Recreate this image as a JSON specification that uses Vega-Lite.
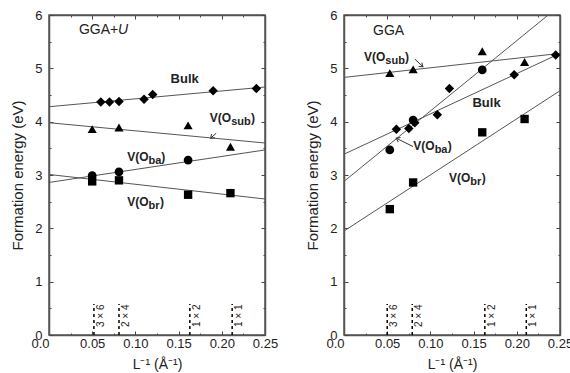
{
  "$schema": "https://vega.github.io/schema/vega-lite/v6.json",
  "padding": {"left": 10, "top": 8, "right": 0, "bottom": 0},
  "spacing": 79,
  "bounds": "flush",
  "config": {
    "font": "Liberation Sans",
    "view": {"stroke": "#555", "strokeWidth": 1.5},
    "axis": {"domainColor": "#555", "domainWidth": 1.5, "tickColor": "#444", "tickWidth": 1, "labelColor": "#222", "titleColor": "#222", "labelFontSize": 13, "grid": false, "titleFontWeight": "normal", "labelFont": "Liberation Sans", "titleFont": "Liberation Sans"}
  },
  "datasets": {
    "fitL": [
      {"s": "Bulk", "x": 0, "y": 4.28}, {"s": "Bulk", "x": 0.25, "y": 4.65},
      {"s": "Osub", "x": 0, "y": 3.98}, {"s": "Osub", "x": 0.25, "y": 3.60},
      {"s": "Oba", "x": 0, "y": 2.86}, {"s": "Oba", "x": 0.25, "y": 3.47},
      {"s": "Obr", "x": 0, "y": 3.01}, {"s": "Obr", "x": 0.25, "y": 2.55}
    ],
    "fitR": [
      {"s": "Osub", "x": 0, "y": 4.83}, {"s": "Osub", "x": 0.25, "y": 5.28},
      {"s": "Bulk", "x": 0, "y": 3.39}, {"s": "Bulk", "x": 0.25, "y": 5.28},
      {"s": "Oba", "x": 0, "y": 2.88}, {"s": "Oba", "x": 0.25, "y": 6.18},
      {"s": "Obr", "x": 0, "y": 1.95}, {"s": "Obr", "x": 0.25, "y": 4.58}
    ],
    "ptsL": [
      {"s": "Bulk", "x": 0.060, "y": 4.37}, {"s": "Bulk", "x": 0.070, "y": 4.37}, {"s": "Bulk", "x": 0.081, "y": 4.38}, {"s": "Bulk", "x": 0.110, "y": 4.42}, {"s": "Bulk", "x": 0.120, "y": 4.51}, {"s": "Bulk", "x": 0.190, "y": 4.58}, {"s": "Bulk", "x": 0.240, "y": 4.62},
      {"s": "Osub", "x": 0.050, "y": 3.86}, {"s": "Osub", "x": 0.081, "y": 3.89}, {"s": "Osub", "x": 0.161, "y": 3.93}, {"s": "Osub", "x": 0.210, "y": 3.53},
      {"s": "Oba", "x": 0.050, "y": 2.99}, {"s": "Oba", "x": 0.081, "y": 3.06}, {"s": "Oba", "x": 0.161, "y": 3.28},
      {"s": "Obr", "x": 0.050, "y": 2.88}, {"s": "Obr", "x": 0.081, "y": 2.90}, {"s": "Obr", "x": 0.161, "y": 2.63}, {"s": "Obr", "x": 0.210, "y": 2.66}
    ],
    "ptsR": [
      {"s": "Osub", "x": 0.053, "y": 4.91}, {"s": "Osub", "x": 0.080, "y": 4.98}, {"s": "Osub", "x": 0.160, "y": 5.32}, {"s": "Osub", "x": 0.209, "y": 5.12},
      {"s": "Bulk", "x": 0.0606, "y": 3.86}, {"s": "Bulk", "x": 0.075, "y": 3.87}, {"s": "Bulk", "x": 0.082, "y": 3.98}, {"s": "Bulk", "x": 0.108, "y": 4.13}, {"s": "Bulk", "x": 0.122, "y": 4.62}, {"s": "Bulk", "x": 0.197, "y": 4.88}, {"s": "Bulk", "x": 0.245, "y": 5.25},
      {"s": "Oba", "x": 0.053, "y": 3.47}, {"s": "Oba", "x": 0.080, "y": 4.03}, {"s": "Oba", "x": 0.160, "y": 4.97},
      {"s": "Obr", "x": 0.053, "y": 2.36}, {"s": "Obr", "x": 0.080, "y": 2.86}, {"s": "Obr", "x": 0.160, "y": 3.80}, {"s": "Obr", "x": 0.209, "y": 4.05}
    ],
    "supL": [{"x": 0.052, "t": "3 × 6"}, {"x": 0.081, "t": "2 × 4"}, {"x": 0.163, "t": "1 × 2"}, {"x": 0.212, "t": "1 × 1"}],
    "supR": [{"x": 0.050, "t": "3 × 6"}, {"x": 0.079, "t": "2 × 4"}, {"x": 0.163, "t": "1 × 2"}, {"x": 0.211, "t": "1 × 1"}],
    "lblL": [{"t": "sub", "x": 0.2108, "xc": 0.2339, "y": 3.99}, {"t": "ba", "x": 0.1153, "xc": 0.1300, "y": 3.26}, {"t": "br", "x": 0.1153, "xc": 0.1285, "y": 2.41}],
    "lblR": [{"t": "sub", "x": 0.0478, "xc": 0.0705, "y": 5.13}, {"t": "ba", "x": 0.1049, "xc": 0.1200, "y": 3.47}, {"t": "br", "x": 0.1462, "xc": 0.1595, "y": 2.86}],
    "bulkL": [{"t": "Bulk", "x": 0.157, "y": 4.72}],
    "bulkR": [{"t": "Bulk", "x": 0.165, "y": 4.28}],
    "ttlL": [{"t": "GGA+", "u": "U", "x": 0.0346, "y": 5.65}],
    "ttlR": [{"t": "GGA", "x": 0.0336, "y": 5.63}],
    "arrL": [{"id": "sub", "x": 0.1935, "y": 3.784, "x2": 0.1871, "y2": 3.69}],
    "arrR": [{"id": "sub", "x": 0.0822, "y": 5.17, "x2": 0.0914, "y2": 5.03}, {"id": "ba", "x": 0.0799, "y": 3.533, "x2": 0.0605, "y2": 3.69}]
  },
  "hconcat": [
    {
      "width": 216, "height": 320,
      "resolve": {"axis": {"x": "independent", "y": "independent"}},
      "layer": [
        {"data": {"name": "fitL"}, "mark": {"type": "line", "color": "#555", "strokeWidth": 1, "clip": true},
         "encoding": {
           "x": {"field": "x", "type": "quantitative", "scale": {"domain": [0, 0.25], "nice": false, "zero": false},
                 "axis": {"orient": "bottom", "values": [0, 0.025, 0.05, 0.075, 0.1, 0.125, 0.15, 0.175, 0.2, 0.225, 0.25], "labelExpr": "round(datum.value*40) % 2 == 0 ? (datum.value == 0 ? '0.0' : format(datum.value, '.2f')) : ''", "labelFlush": false, "labelAlign": {"condition": {"test": "datum.value == 0", "value": "right"}, "value": "center"}, "tickSize": {"condition": {"test": "round(datum.value*40) % 2 == 0", "value": -4}, "value": -2}, "labelPadding": 6, "title": "L⁻¹ (Å⁻¹)", "titleFontSize": 14, "titlePadding": 7}},
           "y": {"field": "y", "type": "quantitative", "scale": {"domain": [0, 6], "nice": false},
                 "axis": {"orient": "left", "values": [0, 0.5, 1, 1.5, 2, 2.5, 3, 3.5, 4, 4.5, 5, 5.5, 6], "labelExpr": "datum.value % 1 == 0 ? format(datum.value, 'd') : ''", "tickSize": {"condition": {"test": "datum.value % 1 == 0", "value": -4}, "value": -2}, "labelPadding": 11, "title": "Formation energy (eV)", "titleFontSize": 15, "titlePadding": 9}},
           "detail": {"field": "s", "type": "nominal"}
         }},
        {"data": {"name": "ptsL"}, "mark": {"type": "point", "filled": true, "color": "black", "opacity": 1},
         "encoding": {
           "x": {"field": "x", "type": "quantitative", "scale": {"domain": [0, 0.25], "nice": false, "zero": false},
                 "axis": {"orient": "top", "values": [0, 0.025, 0.05, 0.075, 0.1, 0.125, 0.15, 0.175, 0.2, 0.225, 0.25], "labels": false, "title": null, "tickSize": {"condition": {"test": "round(datum.value*40) % 2 == 0", "value": -4}, "value": -2}}},
           "y": {"field": "y", "type": "quantitative", "scale": {"domain": [0, 6], "nice": false},
                 "axis": {"orient": "right", "values": [0, 0.5, 1, 1.5, 2, 2.5, 3, 3.5, 4, 4.5, 5, 5.5, 6], "labels": false, "title": null, "tickSize": {"condition": {"test": "datum.value % 1 == 0", "value": -4}, "value": -2}}},
           "shape": {"field": "s", "type": "nominal", "scale": {"domain": ["Bulk", "Osub", "Oba", "Obr"], "range": ["diamond", "triangle-up", "circle", "square"]}, "legend": null},
           "size": {"field": "s", "type": "ordinal", "scale": {"domain": ["Bulk", "Osub", "Oba", "Obr"], "range": [90, 70, 50, 45]}, "legend": null}
         }},
        {"data": {"name": "supL"}, "mark": {"type": "rule", "color": "black", "strokeWidth": 1.5, "strokeDash": [3, 3]},
         "encoding": {"x": {"field": "x", "type": "quantitative", "scale": {"domain": [0, 0.25], "nice": false, "zero": false}, "axis": null},
                      "y": {"datum": 0, "type": "quantitative", "scale": {"domain": [0, 6], "nice": false}, "axis": null}, "y2": {"datum": 0.58}}},
        {"data": {"name": "supL"}, "mark": {"type": "text", "angle": 270, "align": "left", "baseline": "top", "dy": 2, "fontSize": 10, "color": "#222"},
         "encoding": {"x": {"field": "x", "type": "quantitative", "scale": {"domain": [0, 0.25], "nice": false, "zero": false}, "axis": null},
                      "y": {"datum": 0.15, "type": "quantitative", "scale": {"domain": [0, 6], "nice": false}, "axis": null}, "text": {"field": "t"}}},
        {"data": {"name": "lblL"}, "mark": {"type": "text", "align": "right", "baseline": "alphabetic", "fontSize": 12, "fontWeight": "bold", "color": "#222", "text": "V(O"},
         "encoding": {"x": {"field": "x", "type": "quantitative", "scale": {"domain": [0, 0.25], "nice": false, "zero": false}, "axis": null},
                      "y": {"field": "y", "type": "quantitative", "scale": {"domain": [0, 6], "nice": false}, "axis": null}}},
        {"data": {"name": "lblL"}, "mark": {"type": "text", "align": "left", "baseline": "alphabetic", "dy": 3, "fontSize": 11, "fontWeight": "bold", "color": "#222"},
         "encoding": {"x": {"field": "x", "type": "quantitative", "scale": {"domain": [0, 0.25], "nice": false, "zero": false}, "axis": null},
                      "y": {"field": "y", "type": "quantitative", "scale": {"domain": [0, 6], "nice": false}, "axis": null}, "text": {"field": "t"}}},
        {"data": {"name": "lblL"}, "mark": {"type": "text", "align": "left", "baseline": "alphabetic", "fontSize": 12, "fontWeight": "bold", "color": "#222", "text": ")"},
         "encoding": {"x": {"field": "xc", "type": "quantitative", "scale": {"domain": [0, 0.25], "nice": false, "zero": false}, "axis": null},
                      "y": {"field": "y", "type": "quantitative", "scale": {"domain": [0, 6], "nice": false}, "axis": null}}},
        {"data": {"name": "bulkL"}, "mark": {"type": "text", "align": "center", "baseline": "alphabetic", "fontSize": 13, "fontWeight": "bold", "color": "#222"},
         "encoding": {"x": {"field": "x", "type": "quantitative", "scale": {"domain": [0, 0.25], "nice": false, "zero": false}, "axis": null},
                      "y": {"field": "y", "type": "quantitative", "scale": {"domain": [0, 6], "nice": false}, "axis": null}, "text": {"field": "t"}}},
        {"data": {"name": "ttlL"}, "mark": {"type": "text", "align": "left", "baseline": "alphabetic", "fontSize": 14, "color": "#222"},
         "encoding": {"x": {"field": "x", "type": "quantitative", "scale": {"domain": [0, 0.25], "nice": false, "zero": false}, "axis": null},
                      "y": {"field": "y", "type": "quantitative", "scale": {"domain": [0, 6], "nice": false}, "axis": null}, "text": {"field": "t"}}},
        {"data": {"name": "ttlL"}, "mark": {"type": "text", "align": "left", "baseline": "alphabetic", "fontSize": 14, "fontStyle": "italic", "dx": 39, "color": "#222"},
         "encoding": {"x": {"field": "x", "type": "quantitative", "scale": {"domain": [0, 0.25], "nice": false, "zero": false}, "axis": null},
                      "y": {"field": "y", "type": "quantitative", "scale": {"domain": [0, 6], "nice": false}, "axis": null}, "text": {"field": "u"}}},
        {"data": {"name": "arrL"}, "mark": {"type": "rule", "color": "#333", "strokeWidth": 1},
         "encoding": {"x": {"field": "x", "type": "quantitative", "scale": {"domain": [0, 0.25], "nice": false, "zero": false}, "axis": null},
                      "y": {"field": "y", "type": "quantitative", "scale": {"domain": [0, 6], "nice": false}, "axis": null},
                      "x2": {"field": "x2"}, "y2": {"field": "y2"}}},
        {"data": {"name": "arrL"}, "mark": {"type": "point", "shape": "M-1,-0.7L0,0L-1,0.7", "filled": false, "stroke": "#333", "strokeWidth": 1, "size": 50, "angle": 138, "opacity": 1},
         "encoding": {"x": {"field": "x2", "type": "quantitative", "scale": {"domain": [0, 0.25], "nice": false, "zero": false}, "axis": null},
                      "y": {"field": "y2", "type": "quantitative", "scale": {"domain": [0, 6], "nice": false}, "axis": null}}}
      ]
    },
    {
      "width": 216, "height": 320,
      "resolve": {"axis": {"x": "independent", "y": "independent"}},
      "layer": [
        {"data": {"name": "fitR"}, "mark": {"type": "line", "color": "#555", "strokeWidth": 1, "clip": true},
         "encoding": {
           "x": {"field": "x", "type": "quantitative", "scale": {"domain": [0, 0.25], "nice": false, "zero": false},
                 "axis": {"orient": "bottom", "values": [0, 0.025, 0.05, 0.075, 0.1, 0.125, 0.15, 0.175, 0.2, 0.225, 0.25], "labelExpr": "round(datum.value*40) % 2 == 0 ? (datum.value == 0 ? '0.0' : format(datum.value, '.2f')) : ''", "labelFlush": false, "labelAlign": {"condition": {"test": "datum.value == 0", "value": "right"}, "value": "center"}, "tickSize": {"condition": {"test": "round(datum.value*40) % 2 == 0", "value": -4}, "value": -2}, "labelPadding": 6, "title": "L⁻¹ (Å⁻¹)", "titleFontSize": 14, "titlePadding": 7}},
           "y": {"field": "y", "type": "quantitative", "scale": {"domain": [0, 6], "nice": false},
                 "axis": {"orient": "left", "values": [0, 0.5, 1, 1.5, 2, 2.5, 3, 3.5, 4, 4.5, 5, 5.5, 6], "labelExpr": "datum.value % 1 == 0 ? format(datum.value, 'd') : ''", "tickSize": {"condition": {"test": "datum.value % 1 == 0", "value": -4}, "value": -2}, "labelPadding": 11, "title": "Formation energy (eV)", "titleFontSize": 15, "titlePadding": 9}},
           "detail": {"field": "s", "type": "nominal"}
         }},
        {"data": {"name": "ptsR"}, "mark": {"type": "point", "filled": true, "color": "black", "opacity": 1},
         "encoding": {
           "x": {"field": "x", "type": "quantitative", "scale": {"domain": [0, 0.25], "nice": false, "zero": false},
                 "axis": {"orient": "top", "values": [0, 0.025, 0.05, 0.075, 0.1, 0.125, 0.15, 0.175, 0.2, 0.225, 0.25], "labels": false, "title": null, "tickSize": {"condition": {"test": "round(datum.value*40) % 2 == 0", "value": -4}, "value": -2}}},
           "y": {"field": "y", "type": "quantitative", "scale": {"domain": [0, 6], "nice": false},
                 "axis": {"orient": "right", "values": [0, 0.5, 1, 1.5, 2, 2.5, 3, 3.5, 4, 4.5, 5, 5.5, 6], "labels": false, "title": null, "tickSize": {"condition": {"test": "datum.value % 1 == 0", "value": -4}, "value": -2}}},
           "shape": {"field": "s", "type": "nominal", "scale": {"domain": ["Bulk", "Osub", "Oba", "Obr"], "range": ["diamond", "triangle-up", "circle", "square"]}, "legend": null},
           "size": {"field": "s", "type": "ordinal", "scale": {"domain": ["Bulk", "Osub", "Oba", "Obr"], "range": [90, 70, 50, 45]}, "legend": null}
         }},
        {"data": {"name": "supR"}, "mark": {"type": "rule", "color": "black", "strokeWidth": 1.5, "strokeDash": [3, 3]},
         "encoding": {"x": {"field": "x", "type": "quantitative", "scale": {"domain": [0, 0.25], "nice": false, "zero": false}, "axis": null},
                      "y": {"datum": 0, "type": "quantitative", "scale": {"domain": [0, 6], "nice": false}, "axis": null}, "y2": {"datum": 0.58}}},
        {"data": {"name": "supR"}, "mark": {"type": "text", "angle": 270, "align": "left", "baseline": "top", "dy": 2, "fontSize": 10, "color": "#222"},
         "encoding": {"x": {"field": "x", "type": "quantitative", "scale": {"domain": [0, 0.25], "nice": false, "zero": false}, "axis": null},
                      "y": {"datum": 0.15, "type": "quantitative", "scale": {"domain": [0, 6], "nice": false}, "axis": null}, "text": {"field": "t"}}},
        {"data": {"name": "lblR"}, "mark": {"type": "text", "align": "right", "baseline": "alphabetic", "fontSize": 12, "fontWeight": "bold", "color": "#222", "text": "V(O"},
         "encoding": {"x": {"field": "x", "type": "quantitative", "scale": {"domain": [0, 0.25], "nice": false, "zero": false}, "axis": null},
                      "y": {"field": "y", "type": "quantitative", "scale": {"domain": [0, 6], "nice": false}, "axis": null}}},
        {"data": {"name": "lblR"}, "mark": {"type": "text", "align": "left", "baseline": "alphabetic", "dy": 3, "fontSize": 11, "fontWeight": "bold", "color": "#222"},
         "encoding": {"x": {"field": "x", "type": "quantitative", "scale": {"domain": [0, 0.25], "nice": false, "zero": false}, "axis": null},
                      "y": {"field": "y", "type": "quantitative", "scale": {"domain": [0, 6], "nice": false}, "axis": null}, "text": {"field": "t"}}},
        {"data": {"name": "lblR"}, "mark": {"type": "text", "align": "left", "baseline": "alphabetic", "fontSize": 12, "fontWeight": "bold", "color": "#222", "text": ")"},
         "encoding": {"x": {"field": "xc", "type": "quantitative", "scale": {"domain": [0, 0.25], "nice": false, "zero": false}, "axis": null},
                      "y": {"field": "y", "type": "quantitative", "scale": {"domain": [0, 6], "nice": false}, "axis": null}}},
        {"data": {"name": "bulkR"}, "mark": {"type": "text", "align": "center", "baseline": "alphabetic", "fontSize": 13, "fontWeight": "bold", "color": "#222"},
         "encoding": {"x": {"field": "x", "type": "quantitative", "scale": {"domain": [0, 0.25], "nice": false, "zero": false}, "axis": null},
                      "y": {"field": "y", "type": "quantitative", "scale": {"domain": [0, 6], "nice": false}, "axis": null}, "text": {"field": "t"}}},
        {"data": {"name": "ttlR"}, "mark": {"type": "text", "align": "left", "baseline": "alphabetic", "fontSize": 14, "color": "#222"},
         "encoding": {"x": {"field": "x", "type": "quantitative", "scale": {"domain": [0, 0.25], "nice": false, "zero": false}, "axis": null},
                      "y": {"field": "y", "type": "quantitative", "scale": {"domain": [0, 6], "nice": false}, "axis": null}, "text": {"field": "t"}}},
        {"data": {"name": "arrR"}, "mark": {"type": "rule", "color": "#333", "strokeWidth": 1},
         "encoding": {"x": {"field": "x", "type": "quantitative", "scale": {"domain": [0, 0.25], "nice": false, "zero": false}, "axis": null},
                      "y": {"field": "y", "type": "quantitative", "scale": {"domain": [0, 6], "nice": false}, "axis": null},
                      "x2": {"field": "x2"}, "y2": {"field": "y2"}}},
        {"data": {"name": "arrR"}, "transform": [{"filter": "datum.id == 'sub'"}], "mark": {"type": "point", "shape": "M-1,-0.7L0,0L-1,0.7", "filled": false, "stroke": "#333", "strokeWidth": 1, "size": 50, "angle": 39, "opacity": 1},
         "encoding": {"x": {"field": "x2", "type": "quantitative", "scale": {"domain": [0, 0.25], "nice": false, "zero": false}, "axis": null},
                      "y": {"field": "y2", "type": "quantitative", "scale": {"domain": [0, 6], "nice": false}, "axis": null}}},
        {"data": {"name": "arrR"}, "transform": [{"filter": "datum.id == 'ba'"}], "mark": {"type": "point", "shape": "M-1,-0.7L0,0L-1,0.7", "filled": false, "stroke": "#333", "strokeWidth": 1, "size": 50, "angle": 207, "opacity": 1},
         "encoding": {"x": {"field": "x2", "type": "quantitative", "scale": {"domain": [0, 0.25], "nice": false, "zero": false}, "axis": null},
                      "y": {"field": "y2", "type": "quantitative", "scale": {"domain": [0, 6], "nice": false}, "axis": null}}}
      ]
    }
  ]
}
